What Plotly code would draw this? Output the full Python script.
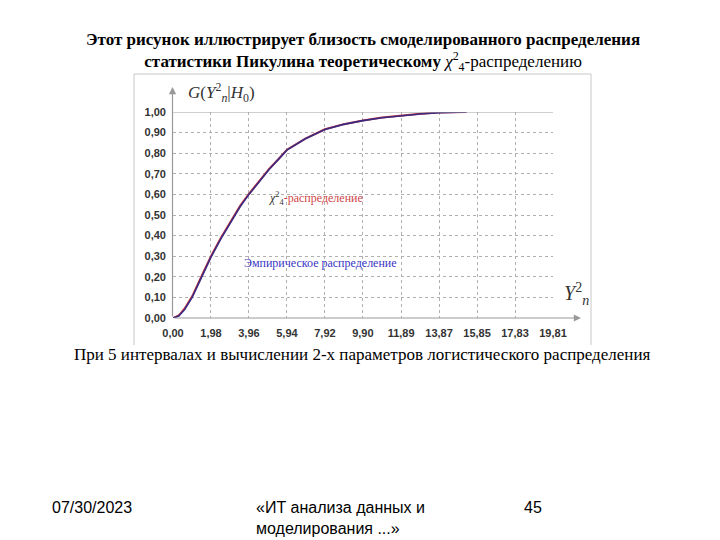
import plotly.graph_objects as go

# ---- data ----
x_emp = [0.0, 0.3, 0.6, 1.0, 1.5, 1.98, 2.5, 3.0, 3.5, 3.96, 4.5, 5.0, 5.5, 5.94,
         6.9, 7.92, 8.9, 9.9, 10.9, 11.89, 12.9, 13.87, 14.6, 15.3]
y_emp = [0.0, 0.01, 0.04, 0.10, 0.20, 0.295, 0.385, 0.465, 0.54, 0.60, 0.665, 0.72,
         0.77, 0.815, 0.87, 0.915, 0.94, 0.958, 0.972, 0.982, 0.99, 0.997, 0.999, 1.0]
x_theo = [0.0, 0.3, 0.6, 1.0, 1.5, 1.98, 2.5, 3.0, 3.5, 3.96, 4.5, 5.0, 5.5, 5.94,
          6.9, 7.92, 8.9, 9.9, 10.9, 11.89, 12.9, 13.87, 14.6, 15.3]
y_theo = [0.0, 0.012, 0.045, 0.105, 0.205, 0.30, 0.39, 0.47, 0.545, 0.603, 0.668, 0.723,
          0.772, 0.817, 0.871, 0.916, 0.941, 0.959, 0.973, 0.983, 0.991, 0.997, 0.999, 1.0]
x_ticks = [0.00, 1.98, 3.96, 5.94, 7.92, 9.90, 11.89, 13.87, 15.85, 17.83, 19.81]
y_ticks = [0.0, 0.1, 0.2, 0.3, 0.4, 0.5, 0.6, 0.7, 0.8, 0.9, 1.0]

title1 = "Этот рисунок иллюстрирует близость смоделированного распределения"
title2 = ("<b>статистики Пикулина теоретическому</b> "
          "<i>χ</i><sup>2</sup><sub>4</sub>-распределению")
subtitle = "При 5 интервалах и вычислении 2-х параметров логистического распределения"

# ---- geometry (pixels) ----
W, H = 720, 540
L, R, T, B = 173, 553, 112, 318


def px(p):
    return (p - L) / (R - L)


def py(p):
    return (B - p) / (B - T)


fig = go.Figure()
fig.add_trace(go.Scatter(x=x_theo, y=y_theo, mode="lines",
                         line=dict(color="#c0303c", width=2), hoverinfo="skip",
                         showlegend=False))
fig.add_trace(go.Scatter(x=x_emp, y=y_emp, mode="lines",
                         line=dict(color="#2c2a8a", width=1.6), opacity=0.9,
                         hoverinfo="skip", showlegend=False))

grid = "#b0b0b0"
tickfont = dict(family="Liberation Sans", size=11, color="#333333", weight="bold")

fig.update_layout(
    width=W, height=H,
    margin=dict(l=L, r=W - R, t=T, b=H - B),
    paper_bgcolor="white", plot_bgcolor="white",
    separators=", ",
    xaxis=dict(range=[0, 19.81], tickvals=x_ticks, tickformat=".2f",
               showgrid=True, gridcolor=grid, griddash="3px,3px", gridwidth=1,
               zeroline=False, showline=False, ticks="",
               tickfont=tickfont, ticklabelstandoff=7, fixedrange=True),
    yaxis=dict(range=[0, 1], tickvals=y_ticks, tickformat=".2f",
               showgrid=True, gridcolor=grid, griddash="3px,3px", gridwidth=1,
               zeroline=False, showline=False, ticks="",
               tickfont=tickfont, ticklabelstandoff=6, fixedrange=True),
)

frame = "#c8c8c8"
shapes = [
    # outer frame (left, top, right)
    dict(type="line", xref="paper", yref="paper", x0=px(134), x1=px(134), y0=py(345), y1=py(74),
         line=dict(color=frame, width=1)),
    dict(type="line", xref="paper", yref="paper", x0=px(134), x1=px(591), y0=py(74), y1=py(74),
         line=dict(color=frame, width=1)),
    dict(type="line", xref="paper", yref="paper", x0=px(591), x1=px(591), y0=py(345), y1=py(74),
         line=dict(color=frame, width=1)),
    # solid top line at 1.00
    dict(type="line", xref="x", yref="y", x0=0, x1=19.81, y0=1, y1=1,
         line=dict(color="#a0a0a0", width=1)),
]
fig.update_layout(shapes=shapes)

ann = []
# axis arrows
ann.append(dict(x=px(172.5), y=py(87), xref="paper", yref="paper", text="", showarrow=True,
                ax=0, ay=231, arrowhead=2, arrowsize=1.2, arrowwidth=1.2, arrowcolor="#999999"))
ann.append(dict(x=px(581), y=0, xref="paper", yref="y", text="", showarrow=True,
                ax=-408, ay=0, arrowhead=2, arrowsize=1.2, arrowwidth=1.2, arrowcolor="#999999"))
# axis titles
ann.append(dict(x=px(186), y=py(92), xref="paper", yref="paper", xanchor="left", yanchor="middle",
                text="<i>G</i>(<i>Y</i><sup>2</sup><sub><i>n</i></sub>|<i>H</i><sub>0</sub>)",
                showarrow=False, font=dict(family="Liberation Serif", size=17, color="#333333")))
ann.append(dict(x=px(562), y=py(294), xref="paper", yref="paper", xanchor="left", yanchor="middle",
                text="<i>Y</i><sup>2</sup><sub><i>n</i></sub>",
                showarrow=False, font=dict(family="Liberation Serif", size=20, color="#333333")))
# curve labels
ann.append(dict(x=px(267), y=py(198), xref="paper", yref="paper", xanchor="left", yanchor="middle",
                text="<span style='color:#333333'><i>χ</i><sup>2</sup><sub>4</sub></span>"
                     "<span style='color:#d04848'>-распределение</span>",
                showarrow=False, font=dict(family="Liberation Serif", size=12)))
ann.append(dict(x=px(242), y=py(263), xref="paper", yref="paper", xanchor="left", yanchor="middle",
                text="Эмпирическое распределение", showarrow=False,
                font=dict(family="Liberation Serif", size=12, color="#3a36c4")))
# titles
ann.append(dict(x=px(363), y=py(52), xref="paper", yref="paper", xanchor="center", yanchor="middle",
                text="<b>" + title1 + "</b><br>" + title2, showarrow=False,
                font=dict(family="Liberation Serif", size=17, color="black")))
ann.append(dict(x=px(362), y=py(354), xref="paper", yref="paper", xanchor="center", yanchor="middle",
                text=subtitle, showarrow=False,
                font=dict(family="Liberation Serif", size=17, color="black")))
# footer
foot = dict(family="Liberation Sans", size=16, color="black")
ann.append(dict(x=px(50), y=py(507), xref="paper", yref="paper", xanchor="left", yanchor="middle",
                text="07/30/2023", showarrow=False, font=foot))
ann.append(dict(x=px(254), y=py(518), xref="paper", yref="paper", xanchor="left", yanchor="middle",
                text="«ИТ анализа данных и<br>моделирования ...»", align="left",
                showarrow=False, font=foot))
ann.append(dict(x=px(522), y=py(507), xref="paper", yref="paper", xanchor="left", yanchor="middle",
                text="45", showarrow=False, font=foot))
fig.update_layout(annotations=ann)

fig.write_html("out.html", config=dict(displayModeBar=False))
